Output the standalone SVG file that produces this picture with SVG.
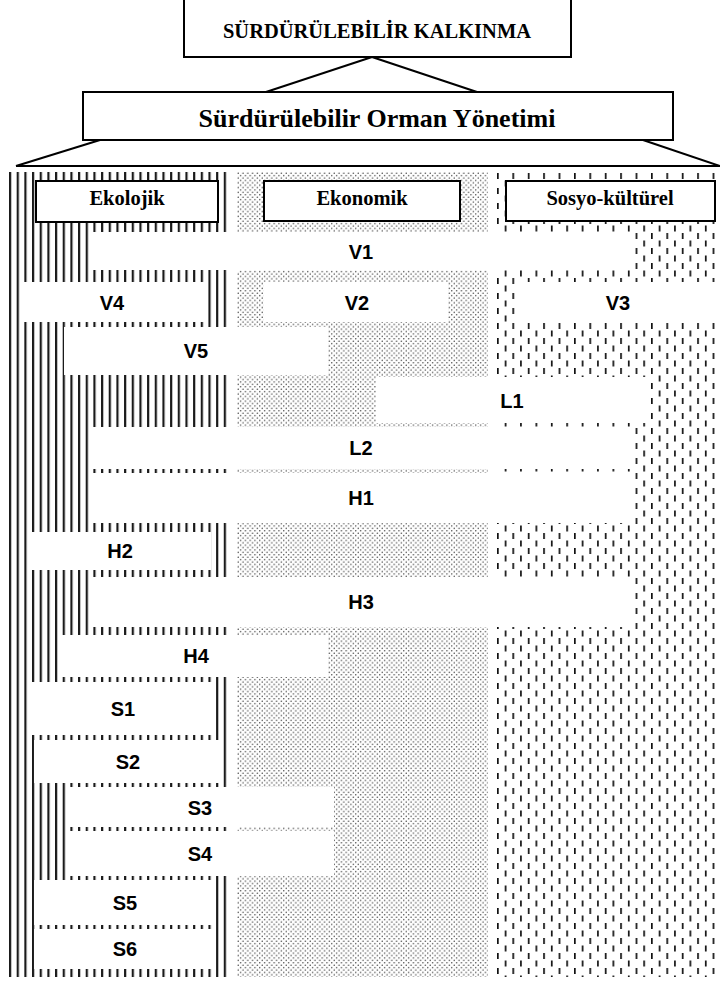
<svg xmlns="http://www.w3.org/2000/svg" width="720" height="983" viewBox="0 0 720 983">
<defs>
<style>
.box{fill:#fff;stroke:#000;stroke-width:2}
.bar{fill:#fff;stroke:none}
.ttl{font-family:"Liberation Serif","Times New Roman",serif;font-weight:bold;text-anchor:middle;fill:#000}
.lbl{font-family:"Liberation Sans",Arial,sans-serif;font-weight:bold;font-size:20px;text-anchor:middle;fill:#000}
.con{stroke:#000;stroke-width:2;fill:none}
</style>
<pattern id="pLines" patternUnits="userSpaceOnUse" x="9" y="0" width="7.67" height="10">
<rect x="0" y="0" width="2.2" height="10" fill="#1a1a1a"/>
</pattern>
<pattern id="pDots" patternUnits="userSpaceOnUse" x="237" y="172" width="4.8" height="4.8">
<circle cx="1.2" cy="1.2" r="0.7" fill="#333"/>
<circle cx="3.6" cy="3.6" r="0.7" fill="#333"/>
</pattern>
<pattern id="pDash" patternUnits="userSpaceOnUse" x="497" y="172" width="15.4" height="15">
<rect x="0" y="1" width="1.7" height="6" fill="#111"/>
<rect x="7.7" y="8.5" width="1.7" height="6" fill="#111"/>
</pattern>
</defs>

<g id="columns">
<rect x="9" y="172" width="222" height="805" fill="url(#pLines)"/>
<rect x="237" y="172" width="251" height="805" fill="url(#pDots)"/>
<rect x="495" y="172" width="225" height="805" fill="url(#pDash)"/>
</g>

<g id="connectors">
<line class="con" x1="372" y1="57" x2="266" y2="92"/>
<line class="con" x1="372" y1="57" x2="477" y2="92"/>
<line class="con" x1="100" y1="140" x2="16" y2="166"/>
<line class="con" x1="643" y1="140" x2="720" y2="166"/>
<line class="con" x1="16" y1="166" x2="720" y2="166"/>
</g>

<g id="sk">
<rect class="box" x="184" y="-2" width="387" height="59"/>
<text class="ttl" x="377" y="38" font-size="20.5">SÜRDÜRÜLEBİLİR KALKINMA</text>
</g>
<g id="soy">
<rect class="box" x="83" y="92" width="590" height="48"/>
<text class="ttl" x="377" y="127" font-size="26">Sürdürülebilir Orman Yönetimi</text>
</g>

<g id="ekolojik">
<rect class="box" x="36" y="181" width="182" height="41"/>
<text class="ttl" x="127" y="205" font-size="20.5">Ekolojik</text>
</g>
<g id="ekonomik">
<rect class="box" x="264" y="181" width="196" height="40"/>
<text class="ttl" x="362" y="205" font-size="20.5">Ekonomik</text>
</g>
<g id="sosyo">
<rect class="box" x="506" y="181" width="209" height="40"/>
<text class="ttl" x="610" y="205" font-size="20.5">Sosyo-kültürel</text>
</g>

<g id="V1"><rect class="bar" x="90" y="232" width="541" height="38"/><text class="lbl" x="361" y="259">V1</text></g>
<g id="V4"><rect class="bar" x="23" y="282" width="184" height="40"/><text class="lbl" x="112" y="310">V4</text></g>
<g id="V2"><rect class="bar" x="264" y="282" width="184" height="40"/><text class="lbl" x="357" y="310">V2</text></g>
<g id="V3"><rect class="bar" x="519" y="282" width="197" height="40"/><text class="lbl" x="618" y="310">V3</text></g>
<g id="V5"><rect class="bar" x="64" y="327" width="264" height="48"/><text class="lbl" x="196" y="358">V5</text></g>
<g id="L1"><rect class="bar" x="376" y="377" width="271" height="46"/><text class="lbl" x="512" y="408">L1</text></g>
<g id="L2"><rect class="bar" x="92" y="427" width="539" height="42"/><text class="lbl" x="361" y="455">L2</text></g>
<g id="H1"><rect class="bar" x="92" y="473" width="539" height="50"/><text class="lbl" x="361" y="505">H1</text></g>
<g id="H2"><rect class="bar" x="28" y="532" width="183" height="38"/><text class="lbl" x="120" y="558">H2</text></g>
<g id="H3"><rect class="bar" x="92" y="577" width="542" height="50"/><text class="lbl" x="361" y="609">H3</text></g>
<g id="H4"><rect class="bar" x="59" y="635" width="269" height="42"/><text class="lbl" x="196" y="663">H4</text></g>
<g id="S1"><rect class="bar" x="32" y="682" width="184" height="53"/><text class="lbl" x="123" y="716">S1</text></g>
<g id="S2"><rect class="bar" x="34" y="740" width="185" height="43"/><text class="lbl" x="128" y="769">S2</text></g>
<g id="S3"><rect class="bar" x="68" y="787" width="266" height="40"/><text class="lbl" x="200" y="815">S3</text></g>
<g id="S4"><rect class="bar" x="68" y="831" width="266" height="45"/><text class="lbl" x="200" y="861">S4</text></g>
<g id="S5"><rect class="bar" x="34" y="880" width="181" height="45"/><text class="lbl" x="125" y="910">S5</text></g>
<g id="S6"><rect class="bar" x="34" y="929" width="181" height="40"/><text class="lbl" x="125" y="956">S6</text></g>
</svg>
